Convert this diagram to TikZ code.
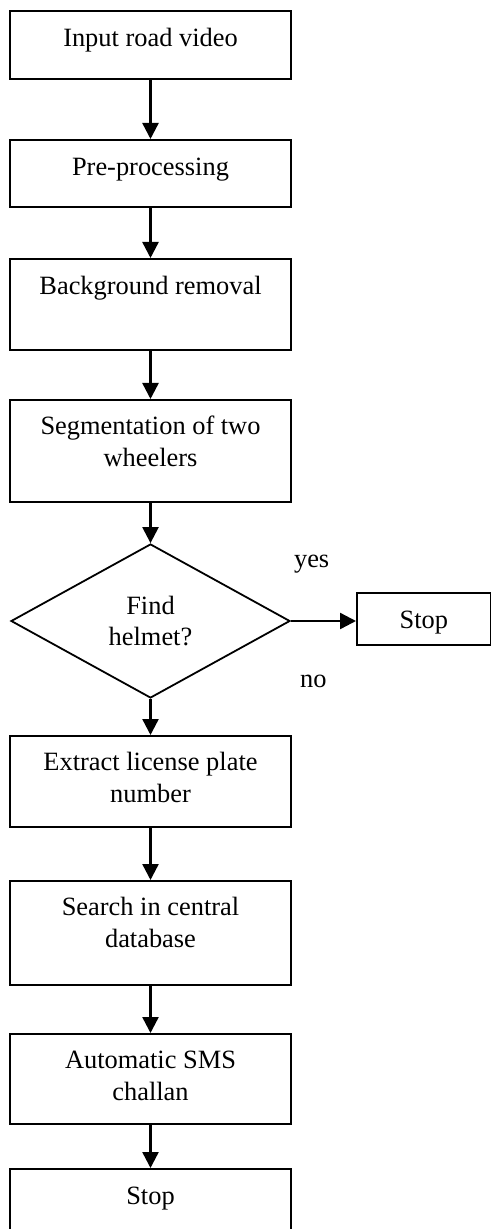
\documentclass[tikz,border=0pt]{standalone}
\usepackage{fontspec}
\setmainfont{Liberation Serif}
\usetikzlibrary{shapes.geometric,arrows.meta}

\newcommand{\twolines}[2]{\begin{tabular}[t]{@{}c@{}}#1\\#2\end{tabular}}

\begin{document}
\begin{tikzpicture}[x=0.5pt,y=-0.5pt,
  font=\fontsize{13.2}{15.8}\selectfont,
  stepbox/.style={draw,line width=0.9pt,inner sep=0pt,minimum width=140.5pt,anchor=north},
  decision/.style={draw,diamond,line width=0.9pt,inner sep=0pt,minimum width=139.5pt,minimum height=77pt,align=center},
  flow/.style={line width=1.2pt,-{Triangle[length=8pt,width=8pt]}}]

\useasboundingbox (0,0) rectangle (491,1229);

\node[stepbox,text height=17.85pt,text depth=16.15pt] (input) at (150.5,10) {Input road video};
\node[stepbox,text height=18pt,text depth=15.5pt] (prep) at (150.5,139) {Pre-processing};
\node[stepbox,text height=17.65pt,text depth=27.85pt] (bgrem) at (150.5,258) {Background removal};
\node[stepbox,text height=17.5pt,text depth=33.5pt] (segm) at (150.5,399) {\twolines{Segmentation of two}{wheelers}};

\node[decision] (helmet) at (150.5,621) {Find\\helmet?};
\node[stepbox,anchor=north west,minimum width=67pt,text height=17.65pt,text depth=8.35pt] (stopyes) at (356,592) {Stop};
\node[anchor=base west] (yes) at (287,567) {yes};
\node[anchor=base west] (no) at (293,687) {no};

\node[stepbox,text height=17.5pt,text depth=28pt] (plate) at (150.5,735) {\twolines{Extract license plate}{number}};
\node[stepbox,text height=17.5pt,text depth=34.5pt] (search) at (150.5,880) {\twolines{Search in central}{database}};
\node[stepbox,text height=17.35pt,text depth=27.65pt] (sms) at (150.5,1033) {\twolines{Automatic SMS}{challan}};
\node[stepbox,text height=17.65pt,text depth=20pt] (stop) at (150.5,1168) {Stop};

\draw[flow] (input) -- (prep);
\draw[flow] (prep) -- (bgrem);
\draw[flow] (bgrem) -- (segm);
\draw[flow] (segm) -- (helmet);
\draw[flow] (helmet.east) -- (helmet.east -| stopyes.west);
\draw[flow] (helmet) -- (plate);
\draw[flow] (plate) -- (search);
\draw[flow] (search) -- (sms);
\draw[flow] (sms) -- (stop);

\end{tikzpicture}
\end{document}
